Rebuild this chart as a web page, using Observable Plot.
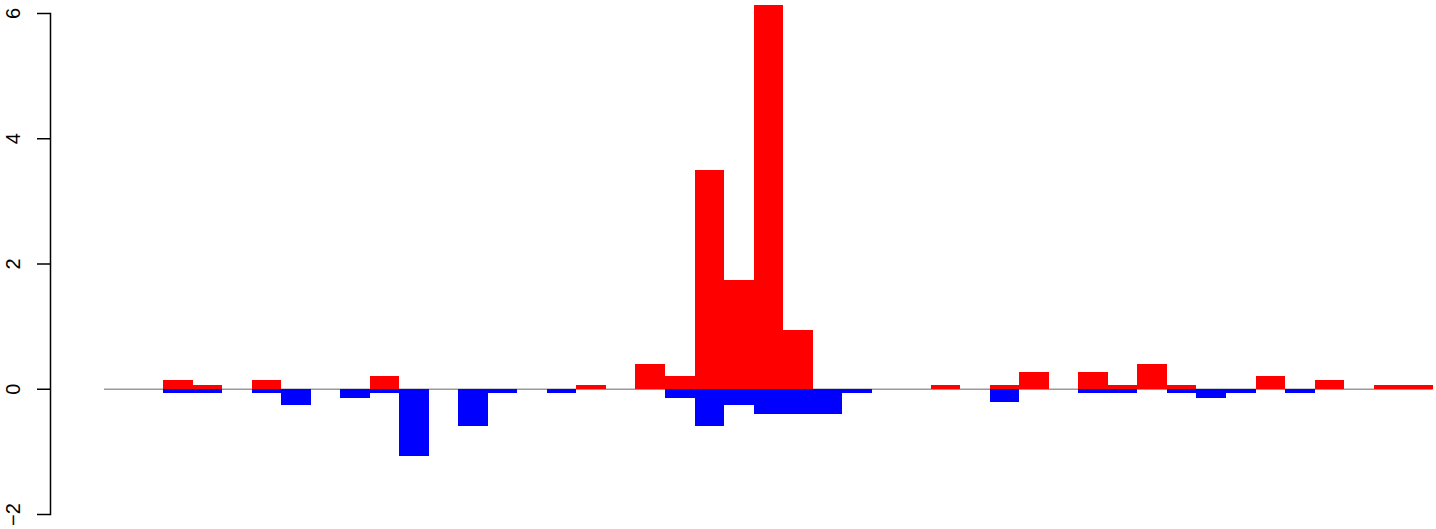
<!DOCTYPE html>
<html>
<head>
<meta charset="utf-8">
<script src="https://cdn.jsdelivr.net/npm/d3@7"></script>
<script src="https://cdn.jsdelivr.net/npm/@observablehq/plot@0.6"></script>
<style>
  html, body { margin: 0; padding: 0; background: #fff; }
  #chart svg { display: block; }
</style>
</head>
<body>
<div id="chart"></div>
<script>
// 45 bins (slot index 0..44)
const slots = d3.range(45);
// positive series (red)
const redValues = [
  0, 0, 0.133, 0.067, 0, 0.133, 0, 0, 0, 0.2,
  0, 0, 0, 0, 0, 0, 0.067, 0, 0.4, 0.2,
  3.5, 1.733, 6.133, 0.933, 0, 0, 0, 0, 0.067, 0,
  0.067, 0.267, 0, 0.267, 0.067, 0.4, 0.067, 0, 0, 0.2,
  0, 0.133, 0, 0.067, 0.067
];
// negative series (blue)
const blueValues = [
  0, 0, -0.067, -0.067, 0, -0.067, -0.267, 0, -0.14, -0.067,
  -1.067, 0, -0.6, -0.067, 0, -0.067, 0, 0, 0, -0.14,
  -0.6, -0.267, -0.4, -0.4, -0.4, -0.067, 0, 0, 0, 0,
  -0.213, 0, 0, -0.067, -0.067, 0, -0.067, -0.147, -0.067, 0,
  -0.067, 0, 0, 0, 0
];
const yTicks = [-2, 0, 2, 4, 6];

const red = slots.map((i) => ({i, v: redValues[i]})).filter((d) => d.v !== 0);
const blue = slots.map((i) => ({i, v: blueValues[i]})).filter((d) => d.v !== 0);

const chart = Plot.plot({
  width: 1436,
  height: 529,
  marginTop: 13,
  marginBottom: 15,
  marginLeft: 50,
  marginRight: 0,
  style: {fontFamily: "'Liberation Sans', Arial, Helvetica, sans-serif", background: "#fff"},
  x: {domain: [-1.829, 45.112], axis: null},
  y: {domain: [-2, 6], axis: null},
  marks: [
    Plot.ruleY([0], {x1: 0, x2: 45, stroke: "#9a9a9a", strokeWidth: 1.6}),
    Plot.rect(red, {x1: (d) => d.i, x2: (d) => d.i + 1, y1: () => 0, y2: "v", fill: "#ff0000", shapeRendering: "crispEdges"}),
    Plot.rect(blue, {x1: (d) => d.i, x2: (d) => d.i + 1, y1: () => 0, y2: "v", fill: "#0000ff", shapeRendering: "crispEdges"}),
    Plot.frame({anchor: "left", stroke: "#000", strokeWidth: 1.5}),
    Plot.axisY(yTicks, {tickSize: 13, tickFormat: () => "", label: null, stroke: "#000", strokeWidth: 1.5}),
    Plot.text(yTicks, {
      y: (d) => d,
      text: (d) => d === -2 ? "\u22122" : String(d),
      frameAnchor: "left",
      dx: -37,
      rotate: -90,
      textAnchor: "middle",
      lineAnchor: "middle",
      fontSize: 20,
      fill: "#000"
    })
  ]
});
document.getElementById("chart").appendChild(chart);
</script>
</body>
</html>
